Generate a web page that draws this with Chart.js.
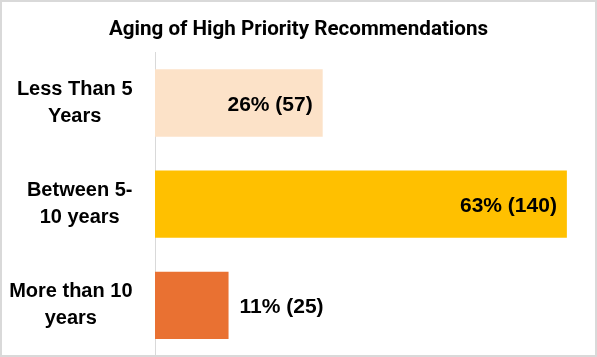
<!DOCTYPE html>
<html>
<head>
<meta charset="utf-8">
<script src="https://cdn.jsdelivr.net/npm/chart.js@4/dist/chart.umd.min.js"></script>
<style>
  html, body { margin: 0; padding: 0; background: #fff; }
  #wrap { position: relative; width: 597px; height: 357px; }
  #frame { position: absolute; left: 0; top: 0; width: 597px; height: 357px; box-sizing: border-box; border: 2px solid #d9d9d9; pointer-events: none; }
  canvas { position: absolute; left: 0; top: 0; }
</style>
</head>
<body>
<div id="wrap">
  <canvas id="c" width="597" height="357"></canvas>
  <div id="frame"></div>
</div>
<script>
const titleText = "Aging of High Priority Recommendations";
const categories = [["Less Than 5", "Years"], ["Between 5-", "10 years"], ["More than 10", "years"]];
const counts = [57, 140, 25];
const percents = [26, 63, 11];
const barColors = ["#FCE2C8", "#FFC000", "#E97132"];

const labelFont = 'bold 20px "Liberation Sans", Arial, sans-serif';
const valueFont = 'bold 21px "Liberation Sans", Arial, sans-serif';

const customLabels = {
  id: 'customLabels',
  afterDatasetsDraw(chart) {
    const ctx = chart.ctx;
    const yScale = chart.scales.y;
    const meta = chart.getDatasetMeta(0);
    ctx.save();
    ctx.fillStyle = '#000';
    ctx.font = labelFont;
    ctx.textBaseline = 'alphabetic';
    ctx.textAlign = 'center';
    const rightEdge = yScale.right - 22.5;
    categories.forEach((lines, i) => {
      const cy = yScale.getPixelForValue(i);
      const w = Math.max(...lines.map(l => ctx.measureText(l).width));
      const cx = rightEdge - w / 2;
      const offs = [-8, 19];
      lines.forEach((l, j) => ctx.fillText(l, cx, cy + offs[j]));
    });
    ctx.font = valueFont;
    meta.data.forEach((bar, i) => {
      const txt = percents[i] + '% (' + counts[i] + ')';
      const tw = ctx.measureText(txt).width;
      const barLen = bar.x - bar.base;
      const y = bar.y + 7.5;
      if (barLen > tw + 20) {
        ctx.textAlign = 'right';
        ctx.fillText(txt, bar.x - 10, y);
      } else {
        ctx.textAlign = 'left';
        ctx.fillText(txt, bar.x + 11, y);
      }
    });
    ctx.restore();
  }
};

new Chart(document.getElementById('c').getContext('2d'), {
  type: 'bar',
  data: {
    labels: categories,
    datasets: [{
      data: counts,
      backgroundColor: barColors,
      borderWidth: 0,
      barPercentage: 0.665,
      categoryPercentage: 1
    }]
  },
  options: {
    indexAxis: 'y',
    responsive: false,
    animation: false,
    devicePixelRatio: 1,
    layout: { padding: { left: 6, right: 6, top: 0, bottom: 1 } },
    plugins: {
      legend: { display: false },
      tooltip: { enabled: false },
      title: {
        display: true,
        text: titleText,
        color: '#000',
        font: { family: 'Roboto, "Liberation Sans", sans-serif', size: 20.6, weight: 'bold' },
        padding: { top: 17, bottom: 10.7 }
      }
    },
    scales: {
      x: { display: false, min: 0, max: 148.2 },
      y: {
        ticks: { display: false },
        grid: { display: false, drawTicks: false },
        border: { display: true, color: '#d9d9d9', width: 1 },
        afterFit(s) { s.width = 149; }
      }
    }
  },
  plugins: [customLabels]
});
</script>
</body>
</html>
